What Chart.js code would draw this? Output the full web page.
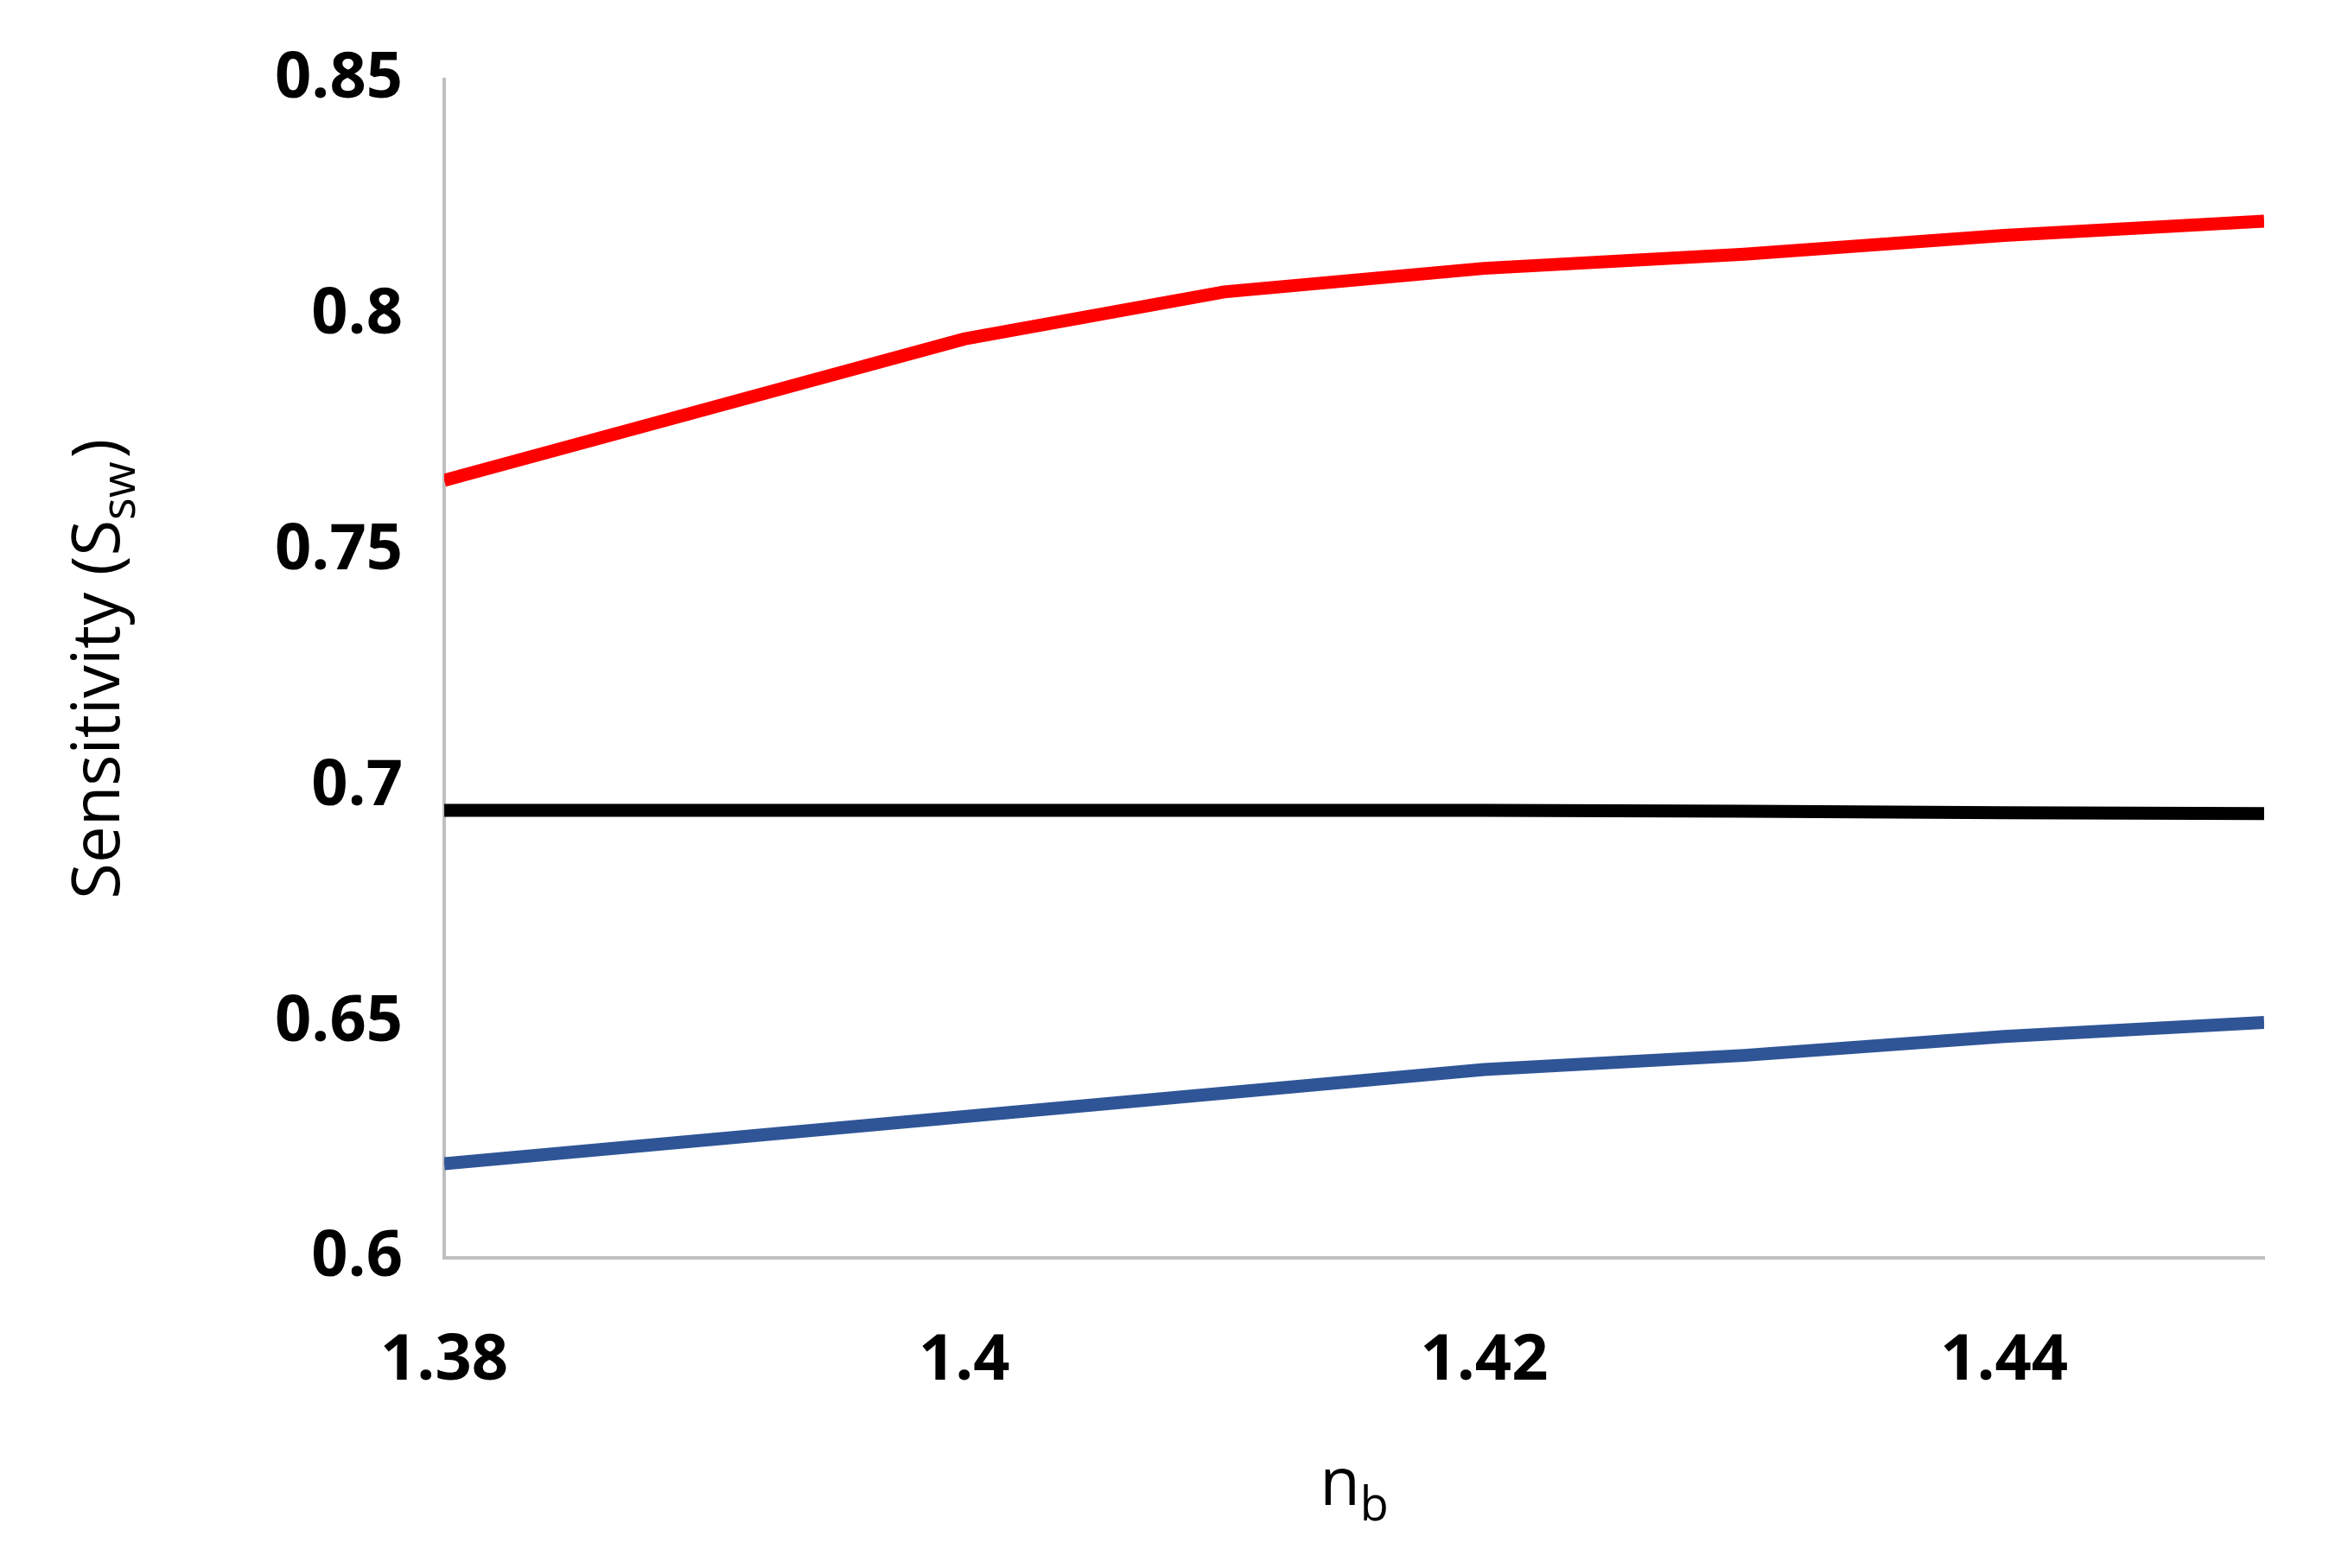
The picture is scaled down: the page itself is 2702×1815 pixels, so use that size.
<!DOCTYPE html>
<html><head><meta charset="utf-8">
<script src="https://cdn.jsdelivr.net/npm/chart.js@4"></script>
<style>html,body{margin:0;padding:0;background:#fff}#w{width:2702px;height:1815px}</style>
</head><body><div id="w"><canvas id="c"></canvas></div>
<script>
const xValues = [1.38, 1.39, 1.40, 1.41, 1.42, 1.43, 1.44, 1.45];
const redSeries = [0.765, 0.780, 0.795, 0.805, 0.810, 0.813, 0.817, 0.820];
const blackSeries = [0.695, 0.695, 0.695, 0.695, 0.695, 0.6948, 0.6945, 0.6943];
const blueSeries = [0.620, 0.625, 0.630, 0.635, 0.640, 0.643, 0.647, 0.650];
const xTicks = [1.38, 1.40, 1.42, 1.44];
const yTicks = [0.6, 0.65, 0.7, 0.75, 0.8, 0.85];

const toPts = s => s.map((v, i) => ({x: xValues[i], y: v}));
const titlePlugin = {
  id: 'titles',
  afterDraw(chart) {
    const ctx = chart.ctx, a = chart.chartArea;
    ctx.save();
    ctx.fillStyle = '#000';
    ctx.textBaseline = 'alphabetic';
    ctx.font = '76px "Open Sans", sans-serif';
    const cx = (a.left + a.right) / 2;
    const nW = ctx.measureText('n').width;
    ctx.font = '54px "Open Sans", sans-serif';
    const bW = ctx.measureText('b').width;
    let x0 = cx - (nW + bW) / 2, y0 = 1742;
    ctx.font = '76px "Open Sans", sans-serif';
    ctx.fillText('n', x0, y0);
    ctx.font = '54px "Open Sans", sans-serif';
    ctx.fillText('b', x0 + nW, y0 + 18);
    ctx.translate(138, (a.top + a.bottom) / 2);
    ctx.rotate(-Math.PI / 2);
    const p1 = 'Sensitivity (S', p2 = 'sw', p3 = ')';
    ctx.font = '76px "Open Sans", sans-serif';
    const w1 = ctx.measureText(p1).width, w3 = ctx.measureText(p3).width;
    ctx.font = '54px "Open Sans", sans-serif';
    const w2 = ctx.measureText(p2).width + 4;
    let sx = -(w1 + w2 + w3) / 2;
    ctx.font = '76px "Open Sans", sans-serif';
    ctx.fillText(p1, sx, 0);
    ctx.font = '54px "Open Sans", sans-serif';
    ctx.fillText(p2, sx + w1, 18);
    ctx.font = '76px "Open Sans", sans-serif';
    ctx.fillText(p3, sx + w1 + w2, 0);
    ctx.restore();
  }
};
const ds = (d, c) => ({data: toPts(d), borderColor: c, borderWidth: 15, pointRadius: 0, fill: false, tension: 0});
new Chart(document.getElementById('c'), {
  type: 'line',
  data: {datasets: [ds(redSeries, '#ff0000'), ds(blackSeries, '#000000'), ds(blueSeries, '#2f5597')]},
  options: {
    responsive: true, maintainAspectRatio: false, animation: false,
    layout: {padding: {left: 270, top: 82, right: 82, bottom: 120}},
    plugins: {legend: {display: false}, tooltip: {enabled: false}},
    scales: {
      x: {type: 'linear', min: 1.38, max: 1.45,
        afterBuildTicks: s => { s.ticks = xTicks.map(v => ({value: v})); },
        grid: {display: false, drawTicks: false},
        border: {color: '#bfbfbf', width: 4},
        ticks: {padding: 75, color: '#000', font: {family: '"Open Sans", sans-serif', size: 74, weight: 'bold'},
          callback: v => String(Number(v.toFixed(2)))}},
      y: {min: 0.6, max: 0.85,
        afterBuildTicks: s => { s.ticks = yTicks.map(v => ({value: v})); },
        grid: {display: false, drawTicks: false},
        border: {color: '#bfbfbf', width: 4},
        ticks: {padding: 48, color: '#000', font: {family: '"Open Sans", sans-serif', size: 74, weight: 'bold'},
          callback: v => String(Number(v.toFixed(2)))}}
    }
  },
  plugins: [titlePlugin]
});
</script></body></html>
